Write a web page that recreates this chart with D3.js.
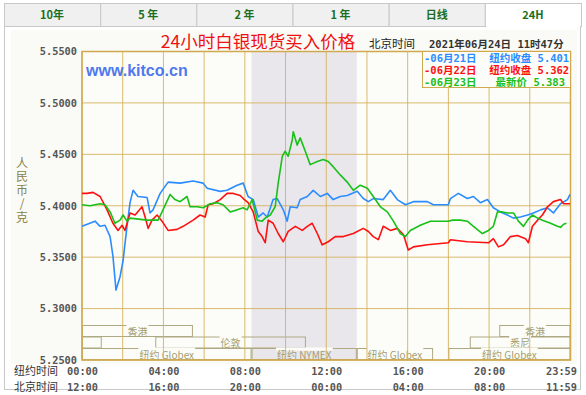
<!DOCTYPE html>
<html>
<head>
<meta charset="utf-8">
<script src="https://cdn.jsdelivr.net/npm/d3@7"></script>
<style>
body { margin: 0; background: #fff; }
svg { display: block; }
.mono { font-family: "DejaVu Sans Mono", "Noto Sans CJK SC", monospace; font-size: 10.3px; font-weight: bold; fill: #555; }
.cjk { font-family: "Noto Sans CJK SC", sans-serif; }
</style>
</head>
<body>
<div class="content"></div>
<script>
// вкладки сверху
var tabLabels = ['10年', '5 年', '2 年', '1 年', '日线', '24H'];

// деления осей
var yTicks = [5.25, 5.30, 5.35, 5.40, 5.45, 5.50, 5.55];
var gridHours = [0, 2, 4, 6, 8, 10, 12, 14, 16, 18, 20, 22, 24];
var labelHours = [0, 4, 8, 12, 16, 20, 24];
var nyLabels = ['00:00', '04:00', '08:00', '12:00', '16:00', '20:00', '23:59'];
var bjLabels = ['12:00', '16:00', '20:00', '00:00', '04:00', '08:00', '11:59'];

// торговая сессия NYMEX (серая полоса), часы по нью-йоркскому времени
var nymexBand = [8.33, 13.5];

// рынки: ряд, начало, конец, подпись
var sessions = [
    [0, 0, 5.45, '香港'],
    [0, 20.5, 24, '香港'],
    [1, 0, 0.97, ''],
    [1, 3.6, 11.0, '伦敦'],
    [1, 19.05, 24, '悉尼'],
    [2, 0, 8.33, '纽约 Globex'],
    [2, 8.33, 13.5, '纽约 NYMEX'],
    [2, 13.5, 17.25, '纽约 Globex'],
    [2, 18.0, 24, '纽约 Globex']
];

// легенда
var legendNames = ['-06月21日  纽约收盘 5.401', '-06月22日  纽约收盘 5.362', '-06月23日   最新价 5.383'];
var seriesColors = ['#2b8cff', '#ff1010', '#19c019'];

// цены: [час, юань/г]
var jun21 = [[0,5.380],[0.64,5.385],[0.89,5.380],[1.13,5.381],[1.38,5.370],[1.52,5.351],[1.67,5.318],[1.87,5.331],[2.02,5.347],[2.21,5.380],[2.36,5.403],[2.51,5.415],[2.75,5.409],[3.20,5.408],[3.34,5.393],[3.49,5.396],[3.84,5.412],[4.23,5.423],[4.82,5.422],[5.46,5.424],[5.95,5.422],[6.15,5.417],[6.79,5.414],[7.13,5.415],[7.62,5.420],[7.92,5.422],[8.16,5.409],[8.41,5.406],[8.66,5.389],[8.90,5.393],[9.10,5.389],[9.39,5.406],[9.59,5.407],[9.89,5.396],[10.08,5.385],[10.23,5.399],[10.57,5.398],[10.72,5.406],[11.07,5.409],[11.36,5.415],[11.71,5.409],[12.05,5.412],[12.34,5.406],[12.69,5.409],[13.03,5.410],[13.52,5.414],[13.82,5.407],[14.07,5.404],[14.31,5.407],[14.80,5.406],[15.15,5.415],[15.49,5.406],[15.89,5.401],[16.28,5.404],[16.97,5.404],[17.26,5.401],[17.61,5.401],[18.00,5.401],[18.10,5.407],[18.49,5.412],[18.93,5.407],[19.23,5.409],[19.57,5.403],[19.92,5.406],[20.21,5.398],[20.56,5.394],[20.90,5.391],[21.20,5.388],[21.54,5.389],[21.89,5.391],[22.18,5.393],[22.53,5.396],[22.87,5.398],[23.16,5.393],[23.51,5.402],[23.85,5.406],[23.98,5.411]];
var jun22 = [[0,5.412],[0.25,5.412],[0.54,5.413],[0.89,5.409],[1.23,5.396],[1.52,5.383],[1.77,5.376],[1.97,5.381],[2.11,5.376],[2.36,5.393],[2.61,5.391],[2.95,5.399],[3.10,5.389],[3.25,5.378],[3.44,5.386],[3.69,5.391],[3.93,5.385],[4.23,5.376],[4.67,5.377],[4.97,5.380],[5.46,5.386],[5.80,5.391],[6.05,5.389],[6.20,5.401],[6.44,5.402],[6.79,5.406],[7.13,5.412],[7.43,5.412],[7.77,5.410],[7.92,5.407],[8.16,5.403],[8.41,5.394],[8.66,5.375],[8.85,5.370],[9.00,5.364],[9.15,5.386],[9.39,5.383],[9.64,5.373],[9.89,5.365],[10.13,5.375],[10.48,5.380],[10.82,5.376],[11.07,5.380],[11.31,5.383],[11.56,5.373],[11.80,5.362],[12.10,5.365],[12.44,5.370],[12.84,5.370],[13.33,5.373],[13.82,5.378],[14.07,5.375],[14.31,5.370],[14.56,5.367],[14.80,5.380],[15.15,5.376],[15.49,5.378],[15.79,5.372],[16.03,5.357],[16.28,5.360],[16.97,5.362],[18.00,5.364],[18.10,5.367],[18.93,5.365],[19.97,5.364],[20.21,5.368],[20.46,5.360],[20.71,5.362],[21.05,5.370],[21.39,5.371],[21.79,5.368],[21.93,5.364],[22.13,5.380],[22.38,5.386],[22.62,5.391],[22.87,5.399],[23.16,5.404],[23.51,5.406],[23.66,5.402],[23.98,5.402]];
var jun23 = [[0,5.401],[0.39,5.400],[0.89,5.402],[1.13,5.401],[1.38,5.394],[1.62,5.383],[1.87,5.386],[2.02,5.391],[2.21,5.385],[2.36,5.388],[3.20,5.386],[3.74,5.386],[3.98,5.396],[4.33,5.411],[4.57,5.406],[4.82,5.404],[5.16,5.409],[5.31,5.399],[5.66,5.399],[5.95,5.398],[6.30,5.402],[6.64,5.403],[6.93,5.401],[7.28,5.394],[7.62,5.396],[7.92,5.398],[8.11,5.396],[8.36,5.406],[8.61,5.386],[8.85,5.385],[9.00,5.388],[9.25,5.391],[9.49,5.399],[9.64,5.422],[9.84,5.448],[9.98,5.453],[10.13,5.448],[10.33,5.464],[10.38,5.472],[10.57,5.459],[10.72,5.466],[10.97,5.453],[11.21,5.440],[11.56,5.443],[11.85,5.445],[12.10,5.443],[12.34,5.438],[12.69,5.430],[13.03,5.423],[13.33,5.415],[13.67,5.420],[14.02,5.417],[14.31,5.409],[14.66,5.399],[15.00,5.394],[15.30,5.385],[15.64,5.373],[15.89,5.370],[16.13,5.376],[16.62,5.381],[17.12,5.385],[18.00,5.385],[18.20,5.386],[18.59,5.386],[18.93,5.385],[19.23,5.380],[19.67,5.373],[19.97,5.376],[20.21,5.380],[20.41,5.394],[20.66,5.394],[20.90,5.393],[21.20,5.393],[21.44,5.385],[21.69,5.380],[21.89,5.386],[22.13,5.391],[22.38,5.388],[22.62,5.386],[23.02,5.383],[23.36,5.380],[23.51,5.379],[23.66,5.382],[23.80,5.383]];

var w = 586, h = 395;
var grid = '#d6b25e', boxLine = '#aea982', plotBg = '#fcfdf8';

var svg = d3.select('.content').append('svg')
    .attr('width', w)
    .attr('height', h);

// шкалы
var x = d3.scaleLinear().domain([0, 24]).range([82, 570.5]);
var y = d3.scaleLinear().domain([5.25, 5.55]).range([360, 51.5]);

// вкладки
var tabX = d3.scaleBand().domain(tabLabels).range([4, 581]);
var tabs = svg.append('g');
tabs.selectAll('rect')
    .data(tabLabels)
    .enter()
    .append('rect')
    .attr('x', function(d) { return tabX(d) + 0.5; })
    .attr('y', 3.5)
    .attr('width', tabX.bandwidth())
    .attr('height', 23)
    .attr('fill', function(d, i) { return i == 5 ? '#fff' : '#f0f0f0'; })
    .attr('stroke', '#c8c8c8');
tabs.selectAll('text')
    .data(tabLabels)
    .enter()
    .append('text')
    .attr('class', 'cjk')
    .attr('x', function(d) { return tabX(d) + tabX.bandwidth() / 2; })
    .attr('y', 19)
    .attr('text-anchor', 'middle')
    .style('font-size', '11px')
    .style('font-weight', 'bold')
    .style('fill', '#1c6e1c')
    .text(function(d) { return d; });

// панель
svg.append('rect')
    .attr('x', 4.5).attr('y', 26.5)
    .attr('width', 576).attr('height', 363)
    .attr('fill', '#fff').attr('stroke', '#c8c8c8');
svg.append('line')
    .attr('x1', tabX('24H') + 1.5).attr('x2', 580)
    .attr('y1', 26.5).attr('y2', 26.5)
    .attr('stroke', '#fff');
svg.append('rect')
    .attr('x', 11).attr('y', 30)
    .attr('width', 566).attr('height', 334)
    .attr('fill', '#fafbf6');

// область графика
svg.append('rect')
    .attr('x', x(0)).attr('y', y(5.55))
    .attr('width', x(24) - x(0)).attr('height', y(5.25) - y(5.55))
    .attr('fill', plotBg);
svg.append('rect')
    .attr('x', x(nymexBand[0])).attr('y', y(5.55))
    .attr('width', x(nymexBand[1]) - x(nymexBand[0]))
    .attr('height', y(5.25) - y(5.55))
    .attr('fill', '#e9e7ec');

// рынки внизу
var rowTop = [325.5, 337, 348.5], rowH = 11;
var sess = svg.append('g');
sess.selectAll('rect')
    .data(sessions)
    .enter()
    .append('rect')
    .attr('x', function(d) { return x(d[1]) + 0.5; })
    .attr('y', function(d) { return rowTop[d[0]]; })
    .attr('width', function(d) { return x(d[2]) - x(d[1]) - 1; })
    .attr('height', rowH)
    .attr('fill', 'none')
    .attr('stroke', boxLine);
var sessText = sess.selectAll('g.lbl')
    .data(sessions.filter(function(d) { return d[3]; }))
    .enter()
    .append('g')
    .attr('class', 'lbl')
    .attr('transform', function(d) { return 'translate(' + ((x(d[1]) + x(d[2])) / 2) + ',' + (rowTop[d[0]] + 10) + ')'; });
sessText.append('text')
    .attr('class', 'cjk')
    .attr('text-anchor', 'middle')
    .style('font-size', '10px')
    .style('fill', '#a39d74')
    .text(function(d) { return d[3]; })
    .each(function() {
        var b = this.getBBox();
        d3.select(this.parentNode).insert('rect', 'text')
            .attr('x', b.x - 1).attr('y', -11)
            .attr('width', b.width + 2).attr('height', 3)
            .attr('fill', plotBg);
    });

// сетка
svg.append('g')
    .selectAll('line')
    .data(gridHours)
    .enter()
    .append('line')
    .attr('x1', function(d) { return x(d); })
    .attr('x2', function(d) { return x(d); })
    .attr('y1', y(5.55)).attr('y2', y(5.25))
    .attr('stroke', grid)
    .attr('stroke-opacity', 0.9);
svg.append('g')
    .selectAll('line')
    .data(yTicks)
    .enter()
    .append('line')
    .attr('x1', x(0)).attr('x2', x(24))
    .attr('y1', function(d) { return y(d); })
    .attr('y2', function(d) { return y(d); })
    .attr('stroke', grid)
    .attr('stroke-opacity', 0.9);
svg.append('rect')
    .attr('x', x(0)).attr('y', y(5.55))
    .attr('width', x(24) - x(0)).attr('height', y(5.25) - y(5.55))
    .attr('fill', 'none')
    .attr('stroke', '#d0a84e')
    .attr('stroke-width', 1.5);

// ось Y
var yAxis = svg.append('g')
    .attr('transform', 'translate(' + x(0) + ',0)')
    .call(d3.axisLeft(y).tickValues(yTicks).tickSize(0).tickPadding(5).tickFormat(d3.format('.4f')));
yAxis.select('.domain').remove();
yAxis.selectAll('text').attr('class', 'mono').attr('font-family', null).attr('font-size', null);

// ось X: нью-йоркское и пекинское время
function timeAxis(labels, ty) {
    var g = svg.append('g')
        .attr('transform', 'translate(0,' + ty + ')')
        .call(d3.axisBottom(x).tickValues(labelHours).tickSize(0).tickPadding(0)
            .tickFormat(function(d, i) { return labels[i]; }));
    g.select('.domain').remove();
    g.selectAll('text')
        .attr('class', 'mono')
        .attr('font-family', null).attr('font-size', null)
        .attr('dy', 0)
        .filter(function(d) { return d == 24; })
        .attr('text-anchor', 'end')
        .attr('x', 6);
}
timeAxis(nyLabels, 375);
timeAxis(bjLabels, 391);
svg.append('text').attr('class', 'cjk').attr('x', 14).attr('y', 375)
    .style('font-size', '11px').style('fill', '#333').text('纽约时间');
svg.append('text').attr('class', 'cjk').attr('x', 14).attr('y', 391)
    .style('font-size', '11px').style('fill', '#333').text('北京时间');

// подпись оси Y — вертикальный текст
svg.append('text')
    .attr('class', 'cjk')
    .attr('x', 22)
    .attr('y', 157)
    .style('writing-mode', 'vertical-rl')
    .style('text-orientation', 'upright')
    .style('letter-spacing', '1.5px')
    .style('font-size', '12px')
    .style('fill', '#8a8248')
    .text('人民币/克');

// линии
var line = d3.line()
    .x(function(d) { return x(d[0]); })
    .y(function(d) { return y(d[1]); });
svg.append('g')
    .selectAll('path')
    .data([jun21, jun22, jun23])
    .enter()
    .append('path')
    .attr('d', line)
    .attr('fill', 'none')
    .attr('stroke', function(d, i) { return seriesColors[i]; })
    .attr('stroke-width', 1.6)
    .attr('stroke-linejoin', 'round');

// заголовок
svg.append('text')
    .attr('class', 'cjk')
    .attr('x', 258).attr('y', 48)
    .attr('text-anchor', 'middle')
    .style('font-size', '17.5px')
    .style('fill', '#f01010')
    .text('24小时白银现货买入价格');
svg.append('text')
    .attr('class', 'cjk')
    .attr('x', 369).attr('y', 48)
    .style('font-size', '11.5px')
    .style('fill', '#222')
    .text('北京时间');
svg.append('text')
    .attr('x', 429).attr('y', 48)
    .style('font-family', '"DejaVu Sans Mono", "Noto Sans CJK SC", monospace')
    .style('font-size', '10.5px')
    .style('font-weight', 'bold')
    .style('fill', '#333')
    .text('2021年06月24日 11时47分');

svg.append('text')
    .attr('x', 86).attr('y', 76)
    .style('font-family', '"Liberation Sans", Arial, sans-serif')
    .style('font-size', '16px')
    .style('font-weight', 'bold')
    .style('fill', '#5078ee')
    .text('www.kitco.cn');

// легенда
svg.append('rect')
    .attr('x', 422.5).attr('y', 51.5)
    .attr('width', x(24) - 422.5).attr('height', 36)
    .attr('fill', plotBg)
    .attr('stroke', '#d0a84e');
svg.append('g')
    .selectAll('text')
    .data(legendNames)
    .enter()
    .append('text')
    .attr('x', 424)
    .attr('y', function(d, i) { return 62 + i * 12; })
    .attr('xml:space', 'preserve')
    .style('white-space', 'pre')
    .style('font-family', '"DejaVu Sans Mono", "Noto Sans CJK SC", monospace')
    .style('font-size', '10.5px')
    .style('font-weight', 'bold')
    .style('fill', function(d, i) { return seriesColors[i]; })
    .text(function(d) { return d; });
</script>
</body>
</html>
